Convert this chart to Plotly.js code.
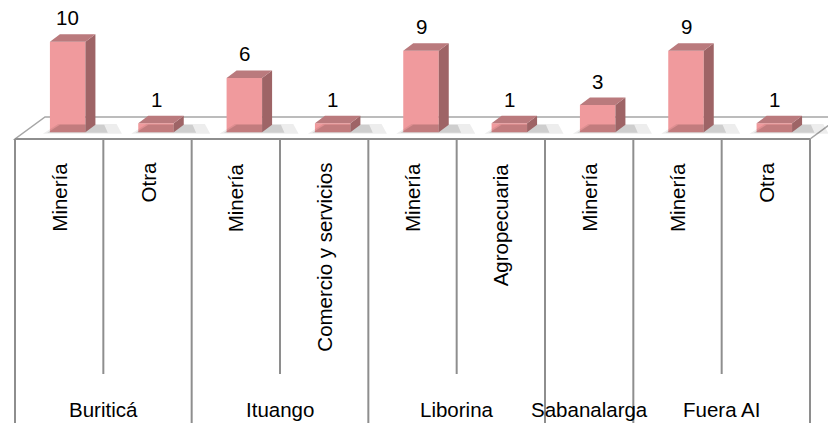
<!DOCTYPE html>
<html>
<head>
<meta charset="utf-8">
<script src="https://cdn.plot.ly/plotly-3.0.1.min.js"></script>
<style>html,body{margin:0;padding:0;background:#fff;}#chart{width:828px;height:423px;}</style>
</head>
<body>
<div id="chart"></div>
<script>
// ---- data ----
const groups = ["Buriticá","Buriticá","Ituango","Ituango","Liborina","Liborina","Sabanalarga","Fuera AI","Fuera AI"];
const categories = ["Minería","Otra","Minería","Comercio y servicios","Minería","Agropecuaria","Minería","Minería","Otra"];
const values = [10,1,6,1,9,1,3,9,1];

// ---- geometry (axis units) ----
const W = 828, H = 423;
const catPx = 88.333;             // px per category
const x0px = 59.17;               // centre of first category
const pxPerUnit = 9.06;           // px per value unit
const zeroPx = 132.3;             // y pixel of value 0
const xRange = [(0 - x0px) / catPx, (W - x0px) / catPx];
const yRange = [(zeroPx - H) / pxPerUnit, zeroPx / pxPerUnit];
const px2v = p => (zeroPx - p) / pxPerUnit;

const barOff = 8.5 / catPx, barW = 35.5 / catPx;
const depX = 10 / catPx, depY = 7.5 / pxPerUnit;
const floorFront = px2v(139), floorBack = px2v(117), floorDx = 30 / catPx;
const innerBottom = px2v(374);
const n = categories.length;
const xs = categories.map((c, i) => i + barOff);

// side and top faces of the 3D columns
const sideX = [], sideY = [], topX = [], topY = [], shX = [], shY = [], sh2X = [], sh2Y = [];
values.forEach((v, i) => {
  const xl = xs[i] - barW / 2, xr = xs[i] + barW / 2;
  sideX.push(xr, xr + depX, xr + depX, xr, xr, null);
  sideY.push(0, depY, v + depY, v, 0, null);
  topX.push(xl, xr, xr + depX, xl + depX, xl, null);
  topY.push(v, v, v + depY, v + depY, v, null);
  shX.push(xl - 0.08, xr + depX + 0.3, xr + depX + 0.24, xl + depX - 0.02, xl - 0.08, null);
  shY.push(-0.15, -0.15, depY + 0.1, depY + 0.1, -0.15, null);
  sh2X.push(xl - 0.03, xr + depX + 0.14, xr + depX + 0.1, xl + depX, xl - 0.03, null);
  sh2Y.push(-0.05, -0.05, depY, depY, -0.05, null);
});

const traces = [
  {type: 'scatter', x: shX, y: shY, mode: 'lines', fill: 'toself', fillcolor: 'rgba(0,0,0,0.07)', line: {width: 0}, hoverinfo: 'skip'},
  {type: 'scatter', x: sh2X, y: sh2Y, mode: 'lines', fill: 'toself', fillcolor: 'rgba(0,0,0,0.13)', line: {width: 0}, hoverinfo: 'skip'},
  {type: 'bar', x: xs, y: values, width: barW, marker: {color: '#F09A9D', line: {width: 0}}, hoverinfo: 'skip'},
  {type: 'scatter', x: sideX, y: sideY, mode: 'lines', fill: 'toself', fillcolor: '#9E6466', line: {width: 0}, hoverinfo: 'skip'},
  {type: 'scatter', x: topX, y: topY, mode: 'lines', fill: 'toself', fillcolor: '#BA7A7D', line: {width: 0}, hoverinfo: 'skip'}
];

// floor + table grid
const gridColor = '#8E8E8E';
const shapes = [{
  type: 'path', xref: 'x', yref: 'y', layer: 'below',
  path: `M ${-0.5} ${floorFront} L ${n - 0.5} ${floorFront} L ${n - 0.5 + floorDx} ${floorBack} L ${-0.5 + floorDx} ${floorBack} Z`,
  fillcolor: '#FFFFFF', line: {color: '#A6A6A6', width: 1.5}
}];
for (let k = 0; k <= n; k++) {
  const isGroupEdge = k === 0 || k === n || groups[k] !== groups[k - 1];
  shapes.push({type: 'line', xref: 'x', yref: 'y', x0: k - 0.5, x1: k - 0.5,
    y0: floorFront, y1: isGroupEdge ? yRange[0] : innerBottom,
    line: {color: gridColor, width: 2}});
}
shapes.push({type: 'line', xref: 'x', yref: 'y', x0: -0.5, x1: n - 0.5, y0: floorFront, y1: floorFront,
  line: {color: gridColor, width: 2}});

const font = {family: 'Liberation Sans, Arial, sans-serif', size: 20.5, color: '#000'};
const annotations = [];
values.forEach((v, i) => {
  annotations.push({x: xs[i], y: v, xref: 'x', yref: 'y', text: String(v), showarrow: false,
    yshift: 24, yanchor: 'middle', xanchor: 'center', font: font});
  annotations.push({x: i, y: floorFront, xref: 'x', yref: 'y', text: categories[i], showarrow: false,
    textangle: -90, yanchor: 'top', xanchor: 'center', yshift: -22, font: font});
});
// group labels
const uniq = [];
groups.forEach((g, i) => {
  if (!uniq.length || uniq[uniq.length - 1].g !== g) uniq.push({g: g, s: i, e: i});
  else uniq[uniq.length - 1].e = i;
});
uniq.forEach(u => {
  annotations.push({x: (u.s + u.e) / 2, y: px2v(409), xref: 'x', yref: 'y', text: u.g, showarrow: false,
    yanchor: 'middle', xanchor: 'center', font: font});
});

const layout = {
  width: W, height: H,
  margin: {l: 0, r: 0, t: 0, b: 0, pad: 0},
  paper_bgcolor: '#fff', plot_bgcolor: '#fff',
  showlegend: false, hovermode: false,
  xaxis: {range: xRange, visible: false, fixedrange: true},
  yaxis: {range: yRange, visible: false, fixedrange: true},
  shapes: shapes, annotations: annotations
};
Plotly.newPlot('chart', traces, layout, {displayModeBar: false, staticPlot: true});
</script>
</body>
</html>
